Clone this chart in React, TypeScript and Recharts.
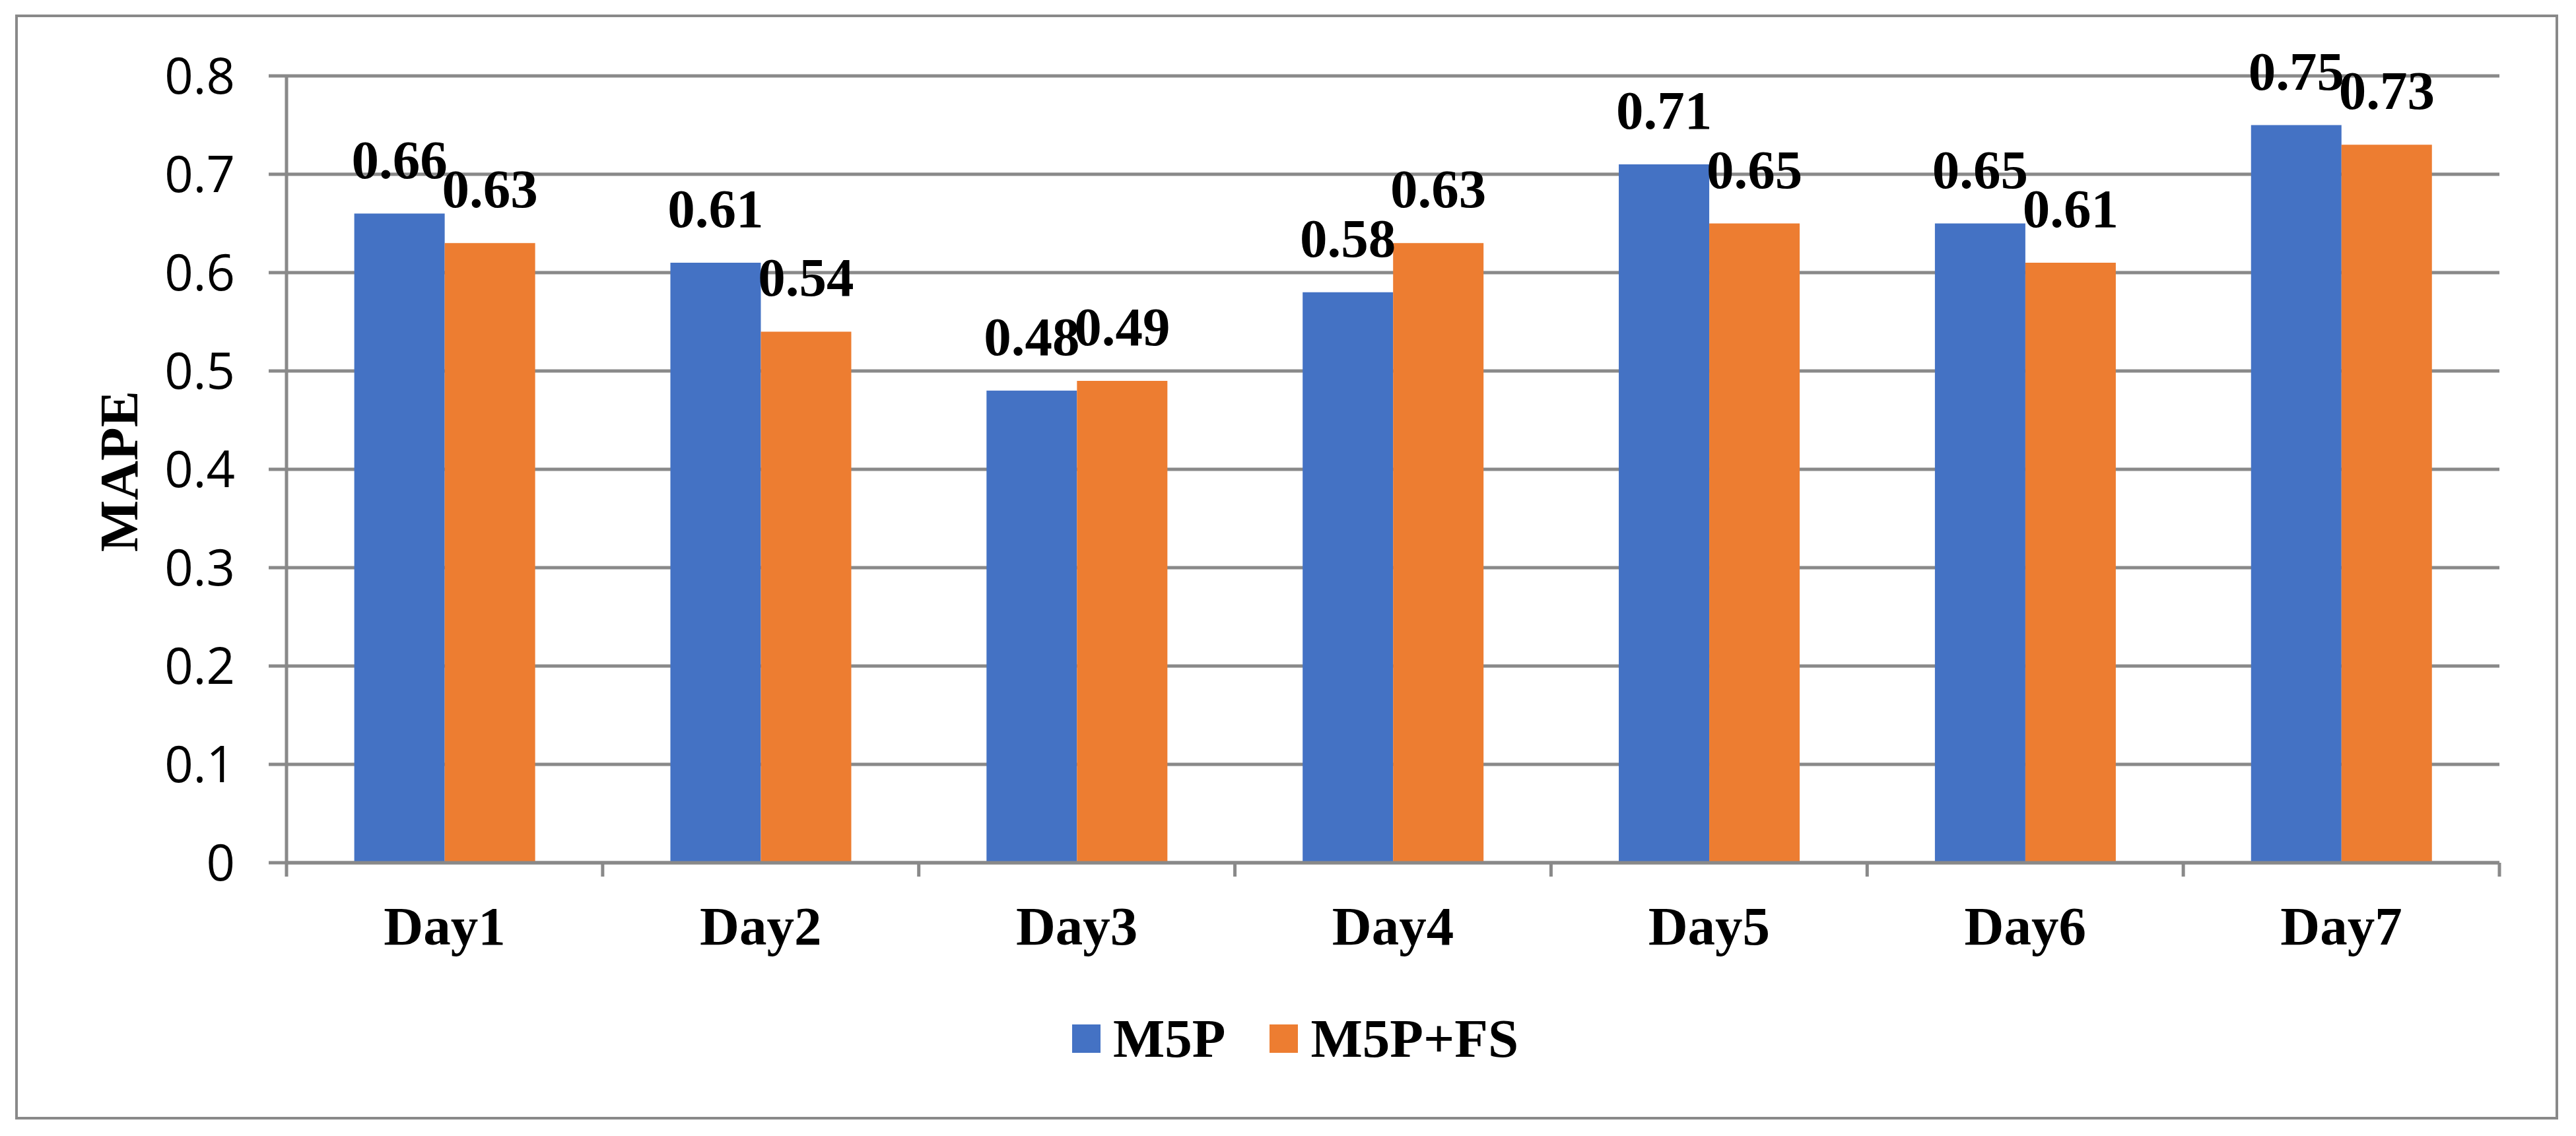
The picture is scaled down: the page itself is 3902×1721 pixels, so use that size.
import React from "react";
import {
  Bar,
  BarChart,
  CartesianGrid,
  LabelList,
  Legend,
  XAxis,
  YAxis,
} from "recharts";

const days = ["Day1", "Day2", "Day3", "Day4", "Day5", "Day6", "Day7"];
const m5p = [0.66, 0.61, 0.48, 0.58, 0.71, 0.65, 0.75];
const m5pFs = [0.63, 0.54, 0.49, 0.63, 0.65, 0.61, 0.73];
const yTicks = [0, 0.1, 0.2, 0.3, 0.4, 0.5, 0.6, 0.7, 0.8];

const seriesNames = { m5p: "M5P", m5pFs: "M5P+FS" };
const seriesColors = { m5p: "#4472C4", m5pFs: "#ED7D31" };

const WIDTH = 3902;
const HEIGHT = 1721;
const GRAY = "#898989";
const SERIF = "'Liberation Serif', 'Times New Roman', serif";

const data = days.map((day, i) => ({ day, m5p: m5p[i], m5pFs: m5pFs[i] }));

function XTick(props: any) {
  const { x, y, payload, index, visibleTicksCount } = props;
  const half = payload?.offset ?? (WIDTH - 434 - 116) / days.length / 2;
  const isLast = index === (visibleTicksCount ?? days.length) - 1;
  return (
    <g>
      <line x1={x - half} y1={y} x2={x - half} y2={y + 21} stroke={GRAY} strokeWidth={5} />
      {isLast && (
        <line x1={x + half} y1={y} x2={x + half} y2={y + 21} stroke={GRAY} strokeWidth={5} />
      )}
      <text
        x={x}
        y={y + 124}
        textAnchor="middle"
        fontFamily={SERIF}
        fontWeight="bold"
        fontSize={83}
        fill="#000"
      >
        {payload.value}
      </text>
    </g>
  );
}

function YTitle(props: any) {
  const { viewBox } = props;
  const cx = viewBox.x + 180;
  const cy = viewBox.y + viewBox.height / 2 + 3;
  return (
    <text
      x={cx}
      y={cy}
      transform={`rotate(-90, ${cx}, ${cy})`}
      textAnchor="middle"
      dominantBaseline="central"
      fontFamily={SERIF}
      fontWeight="bold"
      fontSize={83}
      fill="#000"
    >
      MAPE
    </text>
  );
}

function LegendContent(props: any) {
  const { payload = [] } = props;
  return (
    <div
      style={{
        display: "flex",
        justifyContent: "center",
        alignItems: "center",
        height: 100,
        paddingLeft: 22,
      }}
    >
      {payload.map((entry: any, i: number) => (
        <div
          key={entry.value}
          style={{
            display: "flex",
            alignItems: "center",
            marginRight: i < payload.length - 1 ? 67 : 0,
          }}
        >
          <div
            style={{
              width: 43,
              height: 43,
              background: entry.color,
              marginRight: 19,
            }}
          />
          <span
            style={{
              fontFamily: SERIF,
              fontWeight: "bold",
              fontSize: 83,
              color: "#000",
              lineHeight: "normal",
            }}
          >
            {entry.value}
          </span>
        </div>
      ))}
    </div>
  );
}

export default function App() {
  return (
    <div
      style={{
        position: "absolute",
        left: 0,
        top: 0,
        width: WIDTH,
        height: HEIGHT,
        background: "#fff",
      }}
    >
      <div
        style={{
          position: "absolute",
          left: 23,
          top: 22,
          width: 3852,
          height: 1674,
          border: `4px solid ${GRAY}`,
          boxSizing: "border-box",
        }}
      />
      <BarChart
        width={WIDTH}
        height={HEIGHT}
        data={data}
        margin={{ top: 115, right: 116, left: 0, bottom: 98 }}
        barCategoryGap="21.43%"
        barGap={0}
      >
        <CartesianGrid vertical={false} stroke={GRAY} strokeWidth={5} />
        <XAxis
          dataKey="day"
          interval={0}
          height={216}
          axisLine={{ stroke: GRAY, strokeWidth: 5 }}
          tickLine={false}
          tickSize={0}
          tickMargin={0}
          tick={(p: any) => <XTick {...p} />}
        />
        <YAxis
          width={434}
          domain={[0, 0.8]}
          ticks={yTicks}
          tickFormatter={(v) => String(v)}
          axisLine={{ stroke: GRAY, strokeWidth: 5 }}
          tickLine={{ stroke: GRAY, strokeWidth: 5 }}
          tickSize={27}
          tickMargin={51}
          tick={{ fontFamily: "'Open Sans', sans-serif", fontSize: 76, fill: "#000" }}
          label={{ content: (p: any) => <YTitle {...p} /> }}
        />
        <Legend
          verticalAlign="bottom"
          content={(p: any) => <LegendContent {...p} />}
          wrapperStyle={{ left: 0, width: WIDTH, bottom: 98, height: 100 }}
        />
        <Bar
          dataKey="m5p"
          name={seriesNames.m5p}
          fill={seriesColors.m5p}
          isAnimationActive={false}
        >
          <LabelList
            dataKey="m5p"
            position="top"
            offset={54}
            fill="#000"
            fontFamily={SERIF}
            fontWeight="bold"
            fontSize={83}
          />
        </Bar>
        <Bar
          dataKey="m5pFs"
          name={seriesNames.m5pFs}
          fill={seriesColors.m5pFs}
          isAnimationActive={false}
        >
          <LabelList
            dataKey="m5pFs"
            position="top"
            offset={54}
            fill="#000"
            fontFamily={SERIF}
            fontWeight="bold"
            fontSize={83}
          />
        </Bar>
      </BarChart>
    </div>
  );
}
